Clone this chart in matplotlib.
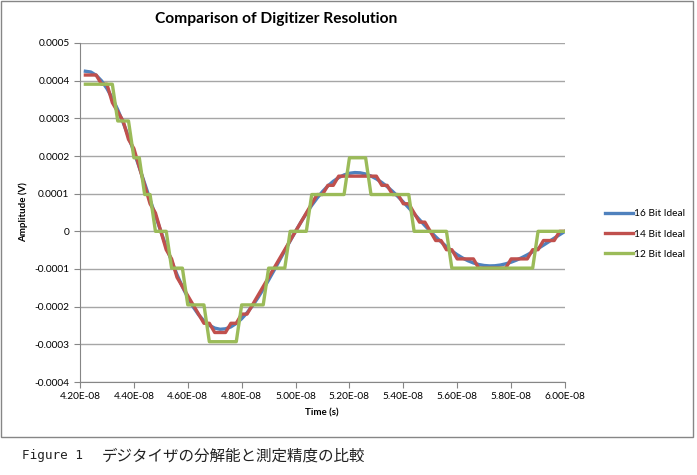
import numpy as np
import matplotlib
matplotlib.use("Agg")
from matplotlib import pyplot as plt
from matplotlib.patches import Rectangle
from matplotlib.ticker import FuncFormatter, MultipleLocator

plt.rcParams['font.family'] = ['Lato', 'DejaVu Sans']

# sample times, 0.2 ns apart (s)
t = np.linspace(42.2, 60.0, 90) * 1e-9

# values, in microvolts
bit16 = np.array([
    425.0, 423.0, 414.3, 399.5, 379.0, 353.3, 323.0, 288.8, 251.4, 211.5,
    169.8, 127.1, 84.2, 41.6, 0.0, -40.7, -79.2, -114.8, -147.1, -175.8,
    -200.6, -221.3, -237.6, -249.5, -256.9, -260.0, -258.8, -253.6, -244.5, -231.9,
    -216.2, -197.7, -176.8, -153.8, -129.4, -103.9, -77.8, -51.5, -25.4, 0.0,
    24.4, 47.4, 68.9, 88.2, 105.6, 120.4, 132.8, 142.6, 149.7, 154.1,
    156.0, 155.3, 152.2, 146.8, 139.2, 129.7, 118.6, 106.1, 92.3, 77.7,
    62.4, 46.7, 30.9, 15.3, 0.0, -14.4, -27.9, -40.5, -51.9, -62.1,
    -70.8, -78.1, -83.9, -88.1, -90.7, -91.8, -91.4, -89.5, -86.3, -81.9,
    -76.3, -69.8, -62.4, -54.3, -45.7, -36.7, -27.5, -18.2, -9.0, 0.0]) * 1e-6

bit14 = np.array([
    415.0, 415.0, 415.0, 390.6, 390.6, 341.8, 317.4, 293.0, 244.1, 219.7,
    170.9, 122.1, 73.2, 48.8, 0.0, -48.8, -73.2, -122.1, -146.5, -170.9,
    -195.3, -219.7, -244.1, -244.1, -268.6, -268.6, -268.6, -244.1, -244.1, -219.7,
    -219.7, -195.3, -170.9, -146.5, -122.1, -97.7, -73.2, -48.8, -24.4, 0.0,
    24.4, 48.8, 73.2, 97.7, 97.7, 122.1, 122.1, 146.5, 146.5, 146.5,
    146.5, 146.5, 146.5, 146.5, 146.5, 122.1, 122.1, 97.7, 97.7, 73.2,
    73.2, 48.8, 24.4, 24.4, 0.0, -24.4, -24.4, -48.8, -48.8, -73.2,
    -73.2, -73.2, -73.2, -97.7, -97.7, -97.7, -97.7, -97.7, -97.7, -73.2,
    -73.2, -73.2, -73.2, -48.8, -48.8, -24.4, -24.4, -24.4, 0.0, 0.0]) * 1e-6

bit12 = np.array([
    390.6, 390.6, 390.6, 390.6, 390.6, 390.6, 293.0, 293.0, 293.0, 195.3,
    195.3, 97.7, 97.7, 0.0, 0.0, 0.0, -97.7, -97.7, -97.7, -195.3,
    -195.3, -195.3, -195.3, -293.0, -293.0, -293.0, -293.0, -293.0, -293.0, -195.3,
    -195.3, -195.3, -195.3, -195.3, -97.7, -97.7, -97.7, -97.7, 0.0, 0.0,
    0.0, 0.0, 97.7, 97.7, 97.7, 97.7, 97.7, 97.7, 97.7, 195.3,
    195.3, 195.3, 195.3, 97.7, 97.7, 97.7, 97.7, 97.7, 97.7, 97.7,
    97.7, 0.0, 0.0, 0.0, 0.0, 0.0, 0.0, 0.0, -97.7, -97.7,
    -97.7, -97.7, -97.7, -97.7, -97.7, -97.7, -97.7, -97.7, -97.7, -97.7,
    -97.7, -97.7, -97.7, -97.7, 0.0, 0.0, 0.0, 0.0, 0.0, 0.0]) * 1e-6

names = ['16 Bit Ideal', '14 Bit Ideal', '12 Bit Ideal']
colors = ['#4F81BD', '#C0504D', '#9BBB59']

fig = plt.figure(figsize=(6.97, 4.75), dpi=100)
ax = fig.add_axes([80 / 697, 93 / 475, 485 / 697, 339 / 475])

for y, name, c in zip([bit16, bit14, bit12], names, colors):
    ax.plot(t, y, color=c, lw=2.4, label=name, solid_joinstyle='round')

ax.set_xlim(4.2e-8, 6.0e-8)
ax.set_ylim(-0.0004, 0.0005)
ax.xaxis.set_major_locator(MultipleLocator(2e-9))
ax.yaxis.set_major_locator(MultipleLocator(1e-4))
ax.xaxis.set_major_formatter(FuncFormatter(lambda v, p: f"{v:.2E}"))
ax.yaxis.set_major_formatter(FuncFormatter(
    lambda v, p: "0" if abs(v) < 1e-9 else f"{v:.4f}"))

ax.grid(axis='y', color='#A6A6A6', lw=1)
ax.set_axisbelow(True)
for s in ['top', 'right']:
    ax.spines[s].set_visible(False)
for s in ['left', 'bottom']:
    ax.spines[s].set_color('#868686')
ax.tick_params(colors='#868686', labelcolor='black', labelsize=7.3,
               length=4, direction='out')

fig.text(276 / 697, 1 - 19 / 475, 'Comparison of Digitizer Resolution',
         ha='center', va='center', fontsize=11.2, fontweight='bold')
fig.text(23 / 697, 1 - 212 / 475, 'Amplitude (V)', rotation=90,
         ha='center', va='center', fontsize=7, fontweight='bold')
fig.text(322 / 697, 1 - 413 / 475, 'Time (s)',
         ha='center', va='center', fontsize=7, fontweight='bold')

ax.legend(loc='center left', bbox_to_anchor=(601 / 697, 1 - 234 / 475),
          bbox_transform=fig.transFigure, frameon=False, fontsize=7.3,
          handlelength=2.8, handletextpad=0.1, labelspacing=1.1,
          borderaxespad=0)

fig.patches.append(Rectangle((1 / 697, 38 / 475), 692 / 697, 436 / 475,
                             transform=fig.transFigure, fill=False,
                             edgecolor='#868686', lw=1))

fig.text(22 / 697, 1 - 456 / 475, 'Figure 1', ha='left', va='center',
         fontsize=9.1, family='DejaVu Sans Mono', color='#222222')
fig.text(102 / 697, 1 - 456 / 475, 'デジタイザの分解能と測定精度の比較',
         ha='left', va='center', fontsize=11.2,
         family=['Noto Sans CJK JP', 'DejaVu Sans'], color='#222222')

fig.savefig('out.png', dpi=100)
